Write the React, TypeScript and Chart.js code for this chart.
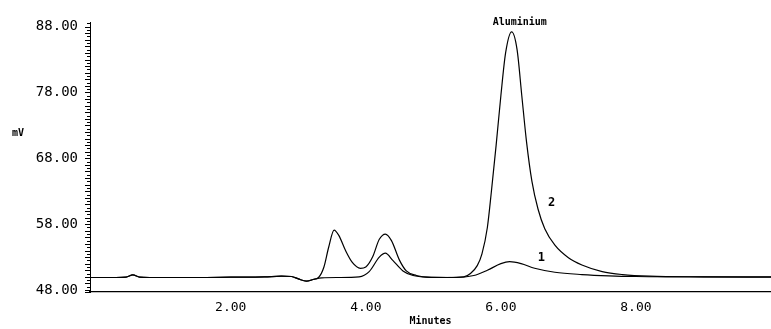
import React, { useEffect, useRef } from "react";
import { Chart, registerables } from "chart.js";

Chart.register(...registerables);

// Trace 1 (lower chromatogram)
const trace1Times = [
  -0.1, 0.3, 0.45, 0.55, 0.65, 0.8, 1.5, 2.0, 2.5, 2.75, 2.9, 3.0, 3.12, 3.22, 3.35,
  3.6, 3.9, 4.05, 4.2, 4.29, 4.4, 4.55, 4.7, 4.9, 5.3, 5.6, 5.8, 6.0, 6.13, 6.3, 6.5,
  6.8, 7.2, 7.6, 8.0, 9.0, 10.0,
];
const trace1Values = [
  49.9, 49.9, 49.95, 50.3, 49.95, 49.9, 49.9, 49.95, 50.0, 50.1, 50.05, 49.7, 49.35, 49.6, 49.85,
  49.9, 50.0, 50.8, 53.0, 53.6, 52.5, 50.9, 50.2, 49.95, 49.9, 50.2, 51.0, 52.0, 52.3, 52.0, 51.3,
  50.7, 50.35, 50.15, 50.05, 50.0, 50.0,
];

// Trace 2 (upper chromatogram, Aluminium)
const trace2Times = [
  -0.1, 0.3, 0.45, 0.55, 0.65, 0.8, 1.5, 2.0, 2.5, 2.75, 2.9, 3.0, 3.12, 3.22, 3.3,
  3.38, 3.45, 3.53, 3.6, 3.7, 3.8, 3.92, 4.0, 4.1, 4.2, 4.29, 4.38, 4.5, 4.6, 4.75,
  4.9, 5.2, 5.45, 5.55, 5.65, 5.72, 5.8, 5.86, 5.93, 6.0, 6.07, 6.16, 6.24, 6.31, 6.38,
  6.46, 6.55, 6.65, 6.8, 7.0, 7.2, 7.5, 7.8, 8.2, 9.0, 10.0,
];
const trace2Values = [
  49.9, 49.9, 49.95, 50.3, 49.95, 49.9, 49.9, 49.95, 50.0, 50.1, 50.05, 49.7, 49.35, 49.6, 49.9,
  51.5, 54.5, 57.1, 56.3, 54.0, 52.2, 51.3, 51.5, 53.0, 55.7, 56.5, 55.5, 52.5, 50.9, 50.2,
  49.95, 49.9, 50.0, 50.5, 51.7, 53.5, 57.5, 63.0, 70.0, 77.5, 84.0, 87.2, 84.5, 77.5, 70.5,
  64.5, 60.3, 57.3, 54.8, 52.9, 51.8, 50.8, 50.35, 50.1, 50.0, 49.95,
];

const xTickValues = [2, 4, 6, 8];
const yTickValues = [48, 58, 68, 78, 88];

const annotationTexts = ["Aluminium", "2", "1"];
const annotationTimes = [6.28, 6.75, 6.6];
const annotationValues = [88.7, 61.2, 52.9];

const yUnit = "mV";
const xTitle = "Minutes";

const overlayPlugin = {
  id: "overlay",
  afterDraw(chart: any) {
    const { ctx, chartArea } = chart;
    const ys = chart.scales.y;
    const xs = chart.scales.x;
    ctx.save();
    ctx.strokeStyle = "#000";
    ctx.lineWidth = 1;
    // ruler-like minor ticks on the y axis
    for (let v = 48; v <= 88.5; v += 0.5) {
      const py = Math.round(ys.getPixelForValue(v)) + 0.5;
      const len = Number.isInteger(v) ? 5 : 3;
      ctx.beginPath();
      ctx.moveTo(chartArea.left, py);
      ctx.lineTo(chartArea.left - len, py);
      ctx.stroke();
    }
    // x axis line runs slightly past the y axis
    const by = Math.round(chartArea.bottom) + 0.5;
    ctx.beginPath();
    ctx.moveTo(chartArea.left - 5, by);
    ctx.lineTo(chartArea.left, by);
    ctx.stroke();

    ctx.fillStyle = "#000";
    ctx.textAlign = "center";
    ctx.textBaseline = "middle";
    ctx.font = "bold 10px 'DejaVu Sans Mono'";
    ctx.fillText(yUnit, 18, ys.getPixelForValue(71.8));
    annotationTexts.forEach((t, i) => {
      ctx.font = i === 0 ? "bold 10px 'DejaVu Sans Mono'" : "bold 12px 'DejaVu Sans Mono'";
      ctx.fillText(t, xs.getPixelForValue(annotationTimes[i]), ys.getPixelForValue(annotationValues[i]));
    });
    ctx.restore();
  },
};

export default function App() {
  const ref = useRef<HTMLCanvasElement | null>(null);
  useEffect(() => {
    if (!ref.current) return;
    const chart = new Chart(ref.current, {
      type: "line",
      data: {
        datasets: [
          {
            label: "1",
            data: trace1Times.map((t, i) => ({ x: t, y: trace1Values[i] })),
            borderColor: "#000",
            borderWidth: 1.2,
            pointRadius: 0,
            cubicInterpolationMode: "monotone",
            fill: false,
          },
          {
            label: "2",
            data: trace2Times.map((t, i) => ({ x: t, y: trace2Values[i] })),
            borderColor: "#000",
            borderWidth: 1.2,
            pointRadius: 0,
            cubicInterpolationMode: "monotone",
            fill: false,
          },
        ],
      },
      options: {
        responsive: false,
        animation: false,
        layout: { padding: { top: 22, right: 0, bottom: 0, left: 0 } },
        plugins: { legend: { display: false }, tooltip: { enabled: false } },
        scales: {
          x: {
            type: "linear",
            min: -0.084,
            max: 10,
            afterBuildTicks: (s: any) => {
              s.ticks = xTickValues.map((v) => ({ value: v }));
            },
            afterFit: (s: any) => {
              s.height = 37;
            },
            grid: { display: false, drawTicks: false },
            border: { display: true, color: "#000", width: 1.2 },
            ticks: {
              padding: 8,
              color: "#000",
              font: { family: "'DejaVu Sans Mono'", size: 13 },
              callback: (v: any) => Number(v).toFixed(2),
              maxRotation: 0,
            },
            title: {
              display: true,
              text: xTitle,
              color: "#000",
              font: { family: "'DejaVu Sans Mono'", size: 10, weight: "bold" },
              padding: { top: 0, bottom: 2 },
            },
          },
          y: {
            type: "linear",
            min: 47.7,
            max: 88.7,
            afterBuildTicks: (s: any) => {
              s.ticks = yTickValues.map((v) => ({ value: v }));
            },
            afterFit: (s: any) => {
              s.width = 90;
            },
            grid: { display: false, drawTicks: false },
            border: { display: true, color: "#000", width: 1 },
            ticks: {
              padding: 12,
              color: "#000",
              font: { family: "'DejaVu Sans Mono'", size: 14 },
              callback: (v: any) => Number(v).toFixed(2),
            },
          },
        },
      },
      plugins: [overlayPlugin],
    } as any);
    return () => chart.destroy();
  }, []);
  return (
    <div style={{ position: "fixed", left: 0, top: 0, width: 771, height: 329, background: "#fff" }}>
      <canvas ref={ref} width={771} height={329} style={{ display: "block", width: 771, height: 329 }} />
    </div>
  );
}
